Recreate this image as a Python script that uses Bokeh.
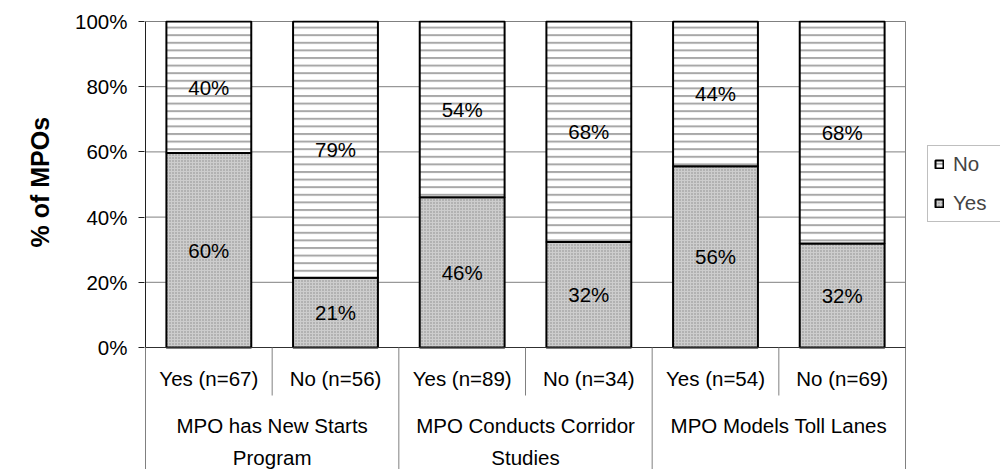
import math
from bokeh.plotting import figure
from bokeh.models import (Range1d, NumeralTickFormatter, FixedTicker, Legend,
                          LegendItem, Title, ColumnDataSource)
from bokeh.core.properties import value
from bokeh.embed import file_html
from bokeh.resources import INLINE

# ---- data ----
groups = ["MPO has New Starts\nProgram", "MPO Conducts Corridor\nStudies", "MPO Models Toll Lanes"]
subs = ["Yes (n=67)", "No (n=56)", "Yes (n=89)", "No (n=34)", "Yes (n=54)", "No (n=69)"]
yes = [0.597, 0.214, 0.461, 0.324, 0.556, 0.319]
no = [0.403, 0.786, 0.539, 0.676, 0.444, 0.681]
y_ticks = [0, 0.2, 0.4, 0.6, 0.8, 1.0]
series = ["No", "Yes"]
y_title = "% of MPOs"

FONT = "Liberation Sans"
FS = "20.5px"
n = len(subs)

# ---- layout (pixels) ----
W, H = 1000, 469
LEFT = 144            # frame left (px)
TOP = 20              # frame top (px)
XU = 760 / n          # px per category
YU = 326.0            # px per 100%
x0_px = 145           # px of first category edge
zero_px = 347         # px of 0%
sub_row_px = 48
frame_w = W - LEFT
frame_h = H - TOP
xr = Range1d(-(x0_px - LEFT) / XU, -(x0_px - LEFT) / XU + frame_w / XU)
yr = Range1d(-(H - zero_px) / YU, -(H - zero_px) / YU + frame_h / YU)

p = figure(width=W, height=H, x_range=xr, y_range=yr, output_backend="svg",
           toolbar_location=None, x_axis_type=None,
           min_border_left=LEFT, min_border_right=0, min_border_top=TOP,
           min_border_bottom=0)
p.outline_line_color = None
p.background_fill_color = "white"
p.border_fill_color = "white"
p.xgrid.visible = False
p.ygrid.visible = False

# y axis
ax = p.yaxis[0]
ax.ticker = FixedTicker(ticks=y_ticks)
ax.formatter = NumeralTickFormatter(format="0%")
ax.bounds = (0, 1)
ax.axis_line_color = None
ax.major_tick_out = 6
ax.major_tick_in = 0
ax.major_tick_line_color = "#202020"
ax.minor_tick_line_color = None
ax.major_label_text_font = FONT
ax.major_label_text_font_size = FS
ax.major_label_text_color = "black"
ax.major_label_standoff = 11

# y axis title, centred on the 0-100% span
p.add_layout(Title(text=y_title, align="left", offset=222, standoff=37,
                   text_font=FONT, text_font_size="25px", text_font_style="bold",
                   text_color="black"), "left")

# gridlines (drawn across the category area only)
gt = y_ticks[1:]
p.segment(x0=[0] * len(gt), y0=gt, x1=[n] * len(gt), y1=gt,
          line_color="#808080", line_width=1)

xs = [i + 0.5 for i in range(n)]
src = ColumnDataSource(dict(
    x=xs, yes=yes, tot=[a + b for a, b in zip(yes, no)],
    yes_mid=[a / 2 for a in yes], no_mid=[a + b / 2 for a, b in zip(yes, no)],
    yes_lab=[f"{round(v * 100)}%" for v in yes],
    no_lab=[f"{round(v * 100)}%" for v in no],
    sub=subs))

r_yes = p.vbar(x="x", width=0.67, bottom=0, top="yes", source=src,
               fill_color="#cdcdcd", hatch_pattern="dot", hatch_color="#888888",
               hatch_scale=3, hatch_weight=1,
               line_color="black", line_width=2)
r_no = p.vbar(x="x", width=0.67, bottom="yes", top="tot", source=src,
              fill_color="white", hatch_pattern="horizontal_line",
              hatch_color="#a8a8a8", hatch_scale=7.6, hatch_weight=2,
              line_color="black", line_width=2)

for ycol, tcol in (("yes_mid", "yes_lab"), ("no_mid", "no_lab")):
    p.text(x="x", y=ycol, text=tcol, source=src, text_font=value(FONT),
           text_font_size=FS, text_align="center", text_baseline="middle",
           text_color="black")

# ---- frame lines / category table ----
ybot = yr.start
p.segment(x0=[0], y0=[0], x1=[0], y1=[1], line_color="#202020", line_width=1)
p.segment(x0=[0], y0=[ybot], x1=[0], y1=[0], line_color="#808080", line_width=1)
p.segment(x0=[n], y0=[ybot], x1=[n], y1=[1], line_color="#808080", line_width=1)
p.segment(x0=[0], y0=[0], x1=[n], y1=[0], line_color="#303030", line_width=1)
sub_div = [i for i in range(1, n, 2)]
p.segment(x0=sub_div, y0=[0] * len(sub_div), x1=sub_div,
          y1=[-sub_row_px / YU] * len(sub_div), line_color="#808080", line_width=1)
grp_div = [i for i in range(2, n, 2)]
p.segment(x0=grp_div, y0=[0] * len(grp_div), x1=grp_div,
          y1=[ybot] * len(grp_div), line_color="#808080", line_width=1)

p.text(x="x", y=0, text="sub", source=src, y_offset=31, text_font=value(FONT),
       text_font_size=FS, text_align="center", text_baseline="middle",
       text_color="black")
gx = [2 * g + 1 for g in range(len(groups))]
p.text(x=gx, y=[0] * len(gx), text=groups, y_offset=66, text_font=value(FONT),
       text_font_size=FS, text_align="center", text_baseline="top",
       text_line_height=1.4, text_color="black")

legend = Legend(items=[LegendItem(label=series[0], renderers=[r_no]),
                       LegendItem(label=series[1], renderers=[r_yes])],
                location=(927 - LEFT, H - 222), orientation="vertical",
                border_line_color="#808080", border_line_width=1,
                background_fill_color="white", background_fill_alpha=1,
                glyph_width=10, glyph_height=10, label_text_font=FONT,
                label_text_font_size=FS, spacing=15, padding=6, margin=0,
                label_standoff=9, label_width=70)
p.add_layout(legend, "center")

open("out.html", "w").write(file_html(p, INLINE))
